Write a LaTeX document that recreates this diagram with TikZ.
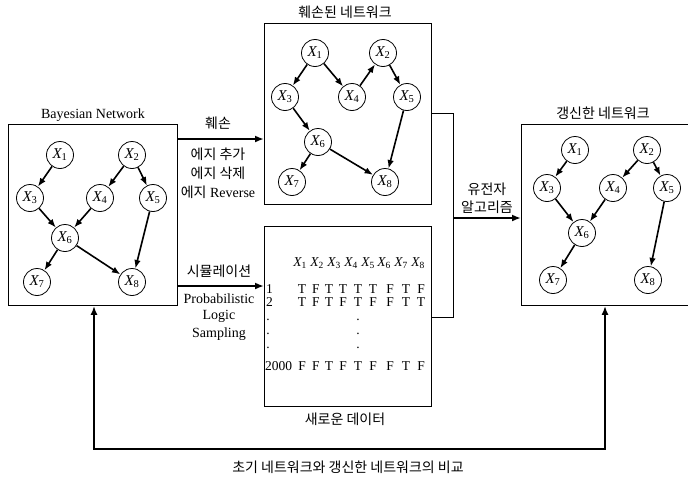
\documentclass[tikz,border=0pt]{standalone}
\usepackage{fontspec}
\setmainfont{Liberation Serif}
\newfontfamily\kr{Noto Sans CJK KR}
\usetikzlibrary{arrows.meta}
\begin{document}
\begin{tikzpicture}[x=1pt,y=-1pt,
  every node/.style={font=\fontsize{14}{16}\selectfont, inner sep=0pt},
  bn/.style={circle, draw, line width=0.8pt, minimum size=27pt, inner sep=0pt, font=\fontsize{15}{16}\selectfont},
  frame/.style={draw, line width=0.9pt, minimum width=#1, anchor=north west},
  edge/.style={line width=1.6pt, -{Latex[length=8.5pt,width=6.5pt]}},
  flow/.style={line width=1.8pt, -{Latex[length=9pt,width=7pt]}},
  thin/.style={line width=0.9pt},
  lbl/.style={font=\kr\fontsize{14}{16}\selectfont},
  cell/.style={font=\fontsize{13.5}{15}\selectfont}
]
\useasboundingbox (0,0) rectangle (688,479);
\newcommand{\xv}[1]{{\itshape X}\textsubscript{#1}}

% boxes
\node (lbox) [frame=169pt, minimum height=181pt] at (8,124) {};
\node (tbox) [frame=167pt, minimum height=181pt] at (264,23) {};
\node (dbox) [frame=167pt, minimum height=180pt] at (264,226) {};
\node (rbox) [frame=175pt, minimum height=181pt] at (521,124) {};

% titles
\node (tl) at (93,115) {Bayesian Network};
\node (tt) [lbl] at (345,12) {훼손된 네트워크};
\node (td) [lbl] at (345,419) {새로운 데이터};
\node (tr) [lbl] at (603,113) {갱신한 네트워크};
\node (tb) [lbl] at (348,467) {초기 네트워크와 갱신한 네트워크의 비교};

% left network
\node[bn] (a1) at (60,155) {\xv{1}};
\node[bn] (a2) at (132,155) {\xv{2}};
\node[bn] (a3) at (30,198) {\xv{3}};
\node[bn] (a4) at (100,198) {\xv{4}};
\node[bn] (a5) at (153,198) {\xv{5}};
\node[bn] (a6) at (65,238) {\xv{6}};
\node[bn] (a7) at (37,282) {\xv{7}};
\node[bn] (a8) at (132,282) {\xv{8}};
\draw[edge] (a1) -- (a3);
\draw[edge] (a2) -- (a4);
\draw[edge] (a2) -- (a5);
\draw[edge] (a3) -- (a6);
\draw[edge] (a4) -- (a6);
\draw[edge] (a6) -- (a7);
\draw[edge] (a6) -- (a8);
\draw[edge] (a5) -- (a8);

% damaged network
\node[bn] (b1) at (315,53) {\xv{1}};
\node[bn] (b2) at (383,53) {\xv{2}};
\node[bn] (b3) at (285,97) {\xv{3}};
\node[bn] (b4) at (352,97) {\xv{4}};
\node[bn] (b5) at (407,97) {\xv{5}};
\node[bn] (b6) at (318,142) {\xv{6}};
\node[bn] (b7) at (292,182) {\xv{7}};
\node[bn] (b8) at (385,182) {\xv{8}};
\draw[edge] (b1) -- (b3);
\draw[edge] (b1) -- (b4);
\draw[edge] (b4) -- (b2);
\draw[edge] (b2) -- (b5);
\draw[edge] (b3) -- (b6);
\draw[edge] (b6) -- (b7);
\draw[edge] (b6) -- (b8);
\draw[edge] (b5) -- (b8);

% updated network
\node[bn] (c1) at (575,150) {\xv{1}};
\node[bn] (c2) at (647,150) {\xv{2}};
\node[bn] (c3) at (547,188) {\xv{3}};
\node[bn] (c4) at (613,188) {\xv{4}};
\node[bn] (c5) at (667,188) {\xv{5}};
\node[bn] (c6) at (582,233) {\xv{6}};
\node[bn] (c7) at (553,280) {\xv{7}};
\node[bn] (c8) at (648,280) {\xv{8}};
\draw[edge] (c1) -- (c3);
\draw[edge] (c2) -- (c4);
\draw[edge] (c2) -- (c5);
\draw[edge] (c3) -- (c6);
\draw[edge] (c4) -- (c6);
\draw[edge] (c6) -- (c7);
\draw[edge] (c5) -- (c8);

% data table
\foreach \i/\x in {1/300,2/317,3/334,4/351,5/368,6/384,7/401,8/418}
  \node[cell] (h\i) at (\x,263) {\xv{\i}};
\node[cell, anchor=west] (n1) at (266,289) {1};
\node[cell, anchor=west] (n2) at (266,302) {2};
\node[cell, anchor=west] (n3) at (265,366) {2000};
\foreach \j/\x/\v in {1/302/T,2/316/F,3/329/T,4/343/T,5/358/T,6/373/T,7/390/F,8/406/T,9/421/F}
  \node[cell] (ra\j) at (\x,289) {\v};
\foreach \j/\x/\v in {1/302/T,2/316/F,3/329/T,4/343/F,5/358/T,6/373/F,7/390/F,8/406/T,9/421/T}
  \node[cell] (rb\j) at (\x,302) {\v};
\foreach \j/\x/\v in {1/302/F,2/316/F,3/329/T,4/343/F,5/358/T,6/373/F,7/390/F,8/406/T,9/421/F}
  \node[cell] (rc\j) at (\x,366) {\v};
\foreach \k/\y in {1/320,2/334,3/348} {
  \node[cell] (dl\k) at (268,\y) {.};
  \node[cell] (dm\k) at (358,\y) {.};
}

% connectors
\coordinate (ya) at (0,139);
\coordinate (yb) at (0,286);
\coordinate (g1) at (453,113);
\coordinate (g2) at (453,317);
\coordinate (g3) at (453,218);
\coordinate (f1) at (94,449);
\coordinate (f2) at (605,449);
\draw[flow] (lbox.east |- ya) -- (tbox.west |- ya);
\draw[flow] (lbox.east |- yb) -- (dbox.west |- yb);
\draw[thin] (tbox.east |- g1) -- (g1) -- (g2) -- (dbox.east |- g2);
\draw[flow] (g3) -- (rbox.west |- g3);
\draw[line width=1.8pt, {Latex[length=9pt,width=7pt]}-{Latex[length=9pt,width=7pt]}]
  (lbox.south -| f1) -- (f1) -- (f2) -- (rbox.south -| f2);

% connector labels
\node[lbl] (l1) at (218,123) {훼손};
\node[lbl] (l2) at (218,154) {에지 추가};
\node[lbl] (l3) at (218,173) {에지 삭제};
\node (l4) at (218,192) {{\kr 에지} Reverse};
\node[lbl] (l5) at (219,271) {시뮬레이션};
\node (l6) at (219,299) {Probabilistic};
\node (l7) at (219,316) {Logic};
\node (l8) at (219,334) {Sampling};
\node[lbl] (l9) at (487,189) {유전자};
\node[lbl] (l10) at (487,207) {알고리즘};
\end{tikzpicture}
\end{document}
